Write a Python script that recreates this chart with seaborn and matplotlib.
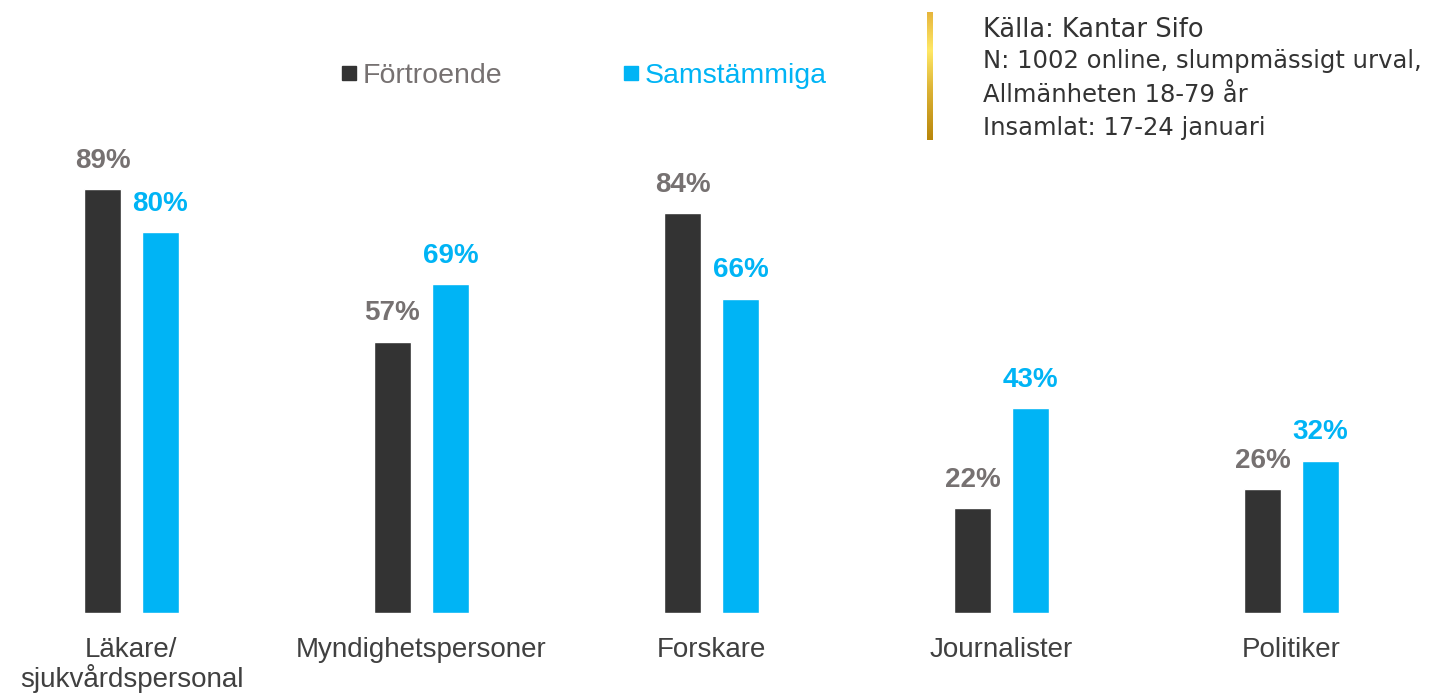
import numpy as np
import pandas as pd
import matplotlib
matplotlib.use("Agg")
import matplotlib.pyplot as plt
from matplotlib.colors import LinearSegmentedColormap
from matplotlib.lines import Line2D
import seaborn as sns

# data
categories = ["Läkare/\nsjukvårdspersonal", "Myndighetspersoner", "Forskare", "Journalister", "Politiker"]
series = ["Förtroende", "Samstämmiga"]
fortroende = [89, 57, 84, 22, 26]
samstammiga = [80, 69, 66, 43, 32]

bar_colors = ["#333333", "#00B4F5"]
label_colors = ["#767171", "#00B4F5"]

df = pd.DataFrame({
    "kategori": categories * 2,
    "serie": [series[0]] * len(categories) + [series[1]] * len(categories),
    "andel": fortroende + samstammiga,
})

sns.set_theme(style="white")
plt.rcParams["font.family"] = ["Liberation Sans", "DejaVu Sans"]

fig = plt.figure(figsize=(14.33, 6.94), dpi=100)
ax = fig.add_axes([0, 0.1167, 1, 0.8833])

sns.barplot(data=df, x="kategori", y="andel", hue="serie", order=categories,
            hue_order=series, palette=bar_colors, width=0.4, gap=0.36,
            saturation=1, legend=False, ax=ax)

# value labels
for cont, col in zip(ax.containers, label_colors):
    ax.bar_label(cont, fmt="{:.0f}%", padding=11, color=col,
                 fontsize=20, fontweight="bold")

ax.set_xlim(-0.4534, 4.4879)
ax.set_ylim(0, 128.7)
ax.set_xlabel("")
ax.set_ylabel("")
ax.set_yticks([])
ax.tick_params(axis="x", length=0, pad=17, labelsize=20, labelcolor="#404040")
for t in ax.get_xticklabels():
    t.set_linespacing(1.05)
sns.despine(ax=ax, left=True, bottom=True)

# legend
handles = [Line2D([], [], marker="s", linestyle="none", markersize=10,
                  markerfacecolor=c, markeredgecolor=c) for c in bar_colors]
ax.legend(handles, series, ncol=2, loc="center left", bbox_to_anchor=(0.2196, 0.876),
          frameon=False, fontsize=20.5, labelcolor=label_colors,
          handlelength=0.6, handletextpad=0.2, columnspacing=4.2)

# source box
grad = np.linspace(0, 1, 256).reshape(-1, 1)
gold = LinearSegmentedColormap.from_list(
    "gold", [(0, "#E6B53C"), (0.3, "#FFE866"), (0.6, "#DDB436"), (1, "#B8860B")])
gax = fig.add_axes([927 / 1433, 1 - 140 / 694, 6 / 1433, 128 / 694])
gax.imshow(grad, aspect="auto", cmap=gold)
gax.axis("off")

src_font = ["DejaVu Sans"]
src_lines = ["Källa: Kantar Sifo",
             "N: 1002 online, slumpmässigt urval,",
             "Allmänheten 18-79 år",
             "Insamlat: 17-24 januari"]
src_base = [37, 68, 102, 135]
src_size = [18.5, 17.5, 17.5, 17.5]
for line, y, fs in zip(src_lines, src_base, src_size):
    fig.text(983 / 1433, 1 - y / 694, line, fontsize=fs,
             color="#333333", va="baseline", family=src_font)

fig.savefig("out.png", dpi=100)
